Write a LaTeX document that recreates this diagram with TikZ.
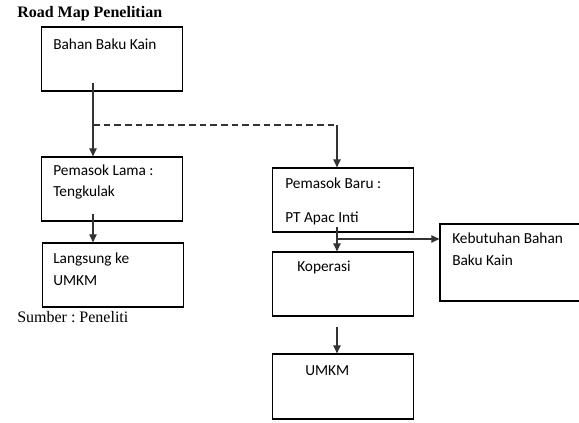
\documentclass[tikz,border=0pt]{standalone}
\usepackage{fontspec}
\setmainfont{Liberation Serif}
\newfontfamily\calfont{Carlito}
\usetikzlibrary{arrows.meta}
\frenchspacing
\begin{document}
\begin{tikzpicture}[x=0.75pt,y=-0.75pt,
  box/.style={draw=black, line width=0.9pt, inner sep=0pt, minimum width=105.75pt, minimum height=48pt},
  lbl/.style={anchor=base west, inner sep=0pt, font=\calfont\fontsize{11.5}{13}\selectfont},
  serif/.style={anchor=base west, inner sep=0pt, font=\fontsize{12}{14}\selectfont},
  conn/.style={draw=black!80, line width=0.8pt},
  arr/.style={conn, -{Triangle[width=5.5pt,length=6pt]}},
  dashline/.style={conn, dash pattern=on 5pt off 3pt},
]
\useasboundingbox (0,0) rectangle (579,423);
\clip (0,0) rectangle (579,423);

% title and source
\node[serif, font=\bfseries\fontsize{12}{14}\selectfont] (title) at (17,18) {Road Map Penelitian};
\node[serif] (src) at (17,323) {Sumber :\ Peneliti};

% boxes
\node[box] (b1) at (112,59) {};
\node[box] (b2) at (112,189) {};
\node[box] (b4) at (113,275) {};
\node[box] (b3) at (343,200) {};
\node[box] (b5) at (343,284) {};
\node[box, minimum height=48.75pt] (b7) at (343,386.5) {};
\node[box, minimum width=112.5pt, minimum height=57.75pt] (b6) at (515,262.5) {};

% labels
\node[lbl] (t1) at (53,50) {Bahan Baku Kain};
\node[lbl] (t2a) at (53,176) {Pemasok Lama :};
\node[lbl] (t2b) at (53,197) {Tengkulak};
\node[lbl] (t4a) at (53,264) {Langsung ke};
\node[lbl] (t4b) at (53,286) {UMKM};
\node[lbl] (t3a) at (285,189) {Pemasok Baru :};
\node[lbl] (t3b) at (285,223) {PT Apac Inti};
\node[lbl] (t5) at (297,272) {Koperasi};
\node[lbl] (t6a) at (452,244) {Kebutuhan Bahan};
\node[lbl] (t6b) at (452,266) {Baku Kain};
\node[lbl] (t7) at (305,376) {UMKM};

% connectors
\coordinate (s1) at (93,83);
\coordinate (d1) at (93,125);
\coordinate (d2) at (337,125);
\coordinate (s2) at (93,214);
\coordinate (s3) at (337,227);
\coordinate (br) at (337,239);
\coordinate (s4) at (337,327);

\draw[arr] (s1) -- (b2.north -| s1);
\draw[dashline] (d1) -- (d2);
\draw[arr] (d2) -- (b3.north -| d2);
\draw[arr] (s2) -- (b4.north -| s2);
\draw[arr] (s3) -- (b5.north -| s3);
\draw[arr] (br) -- (b6.west |- br);
\draw[arr] (s4) -- (b7.north -| s4);
\end{tikzpicture}
\end{document}
